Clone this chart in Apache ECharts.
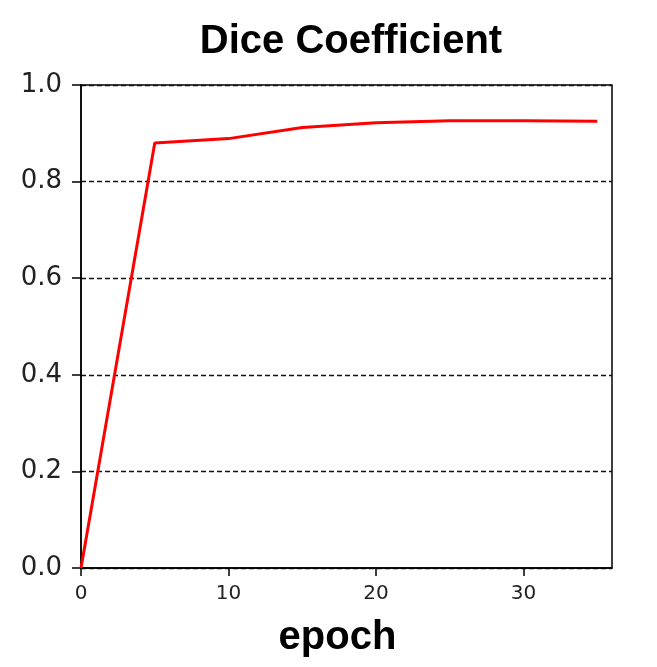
<!DOCTYPE html>
<html>
<head>
<meta charset="utf-8">
<script src="https://cdn.jsdelivr.net/npm/echarts@6/dist/echarts.min.js"></script>
<style>
  html, body { margin: 0; padding: 0; background: #fff; }
  #chart-container { width: 657px; height: 667px; }
</style>
</head>
<body>
<div id="chart-container"></div>
<script>
var dom = document.getElementById("chart-container");
var myChart = echarts.init(dom, null, { renderer: "canvas" });

var epochs = [0, 5, 10, 15, 20, 25, 30, 35];
var dice = [0.0, 0.88, 0.889, 0.912, 0.922, 0.926, 0.926, 0.925];
var xTicks = [0, 10, 20, 30];

var data = [];
for (var i = 0; i < epochs.length; i++) data.push([epochs[i], dice[i]]);

var option = {
  animation: false,
  title: {
    text: "Dice Coefficient",
    left: 346,
    textAlign: "center",
    top: 17,
    textStyle: {
      fontFamily: "Liberation Sans",
      fontWeight: "bold",
      fontSize: 40,
      color: "#000",
    },
  },
  grid: {
    left: 81,
    right: 45,
    top: 85,
    bottom: 99,
    show: true,
    borderColor: "#000",
    borderWidth: 1.5,
  },
  xAxis: {
    type: "value",
    min: 0,
    max: 36,
    interval: 10,
    name: "epoch",
    nameLocation: "middle",
    nameGap: 50,
    nameTextStyle: {
      fontFamily: "Liberation Sans",
      fontWeight: "bold",
      fontSize: 40,
      color: "#000",
      padding: [0, 18, 0, 0],
    },
    axisLine: { show: true, lineStyle: { color: "#000", width: 1.5 } },
    axisTick: {
      show: true,
      length: 8,
      customValues: xTicks,
      lineStyle: { color: "#000", width: 1.5 },
    },
    axisLabel: {
      customValues: xTicks,
      margin: 16,
      fontFamily: "DejaVu Sans",
      fontSize: 20,
      color: "#222",
    },
    splitLine: { show: false },
  },
  yAxis: {
    type: "value",
    min: 0,
    max: 1,
    interval: 0.2,
    axisLine: { show: true, lineStyle: { color: "#000", width: 1.5 } },
    axisTick: {
      show: true,
      length: 9,
      lineStyle: { color: "#000", width: 1.5 },
    },
    axisLabel: {
      margin: 19,
      fontFamily: "DejaVu Sans",
      fontSize: 26,
      color: "#222",
      formatter: function (v) { return v.toFixed(1); },
    },
    splitLine: {
      show: true,
      lineStyle: { color: "#111", width: 1.3, type: [5, 3] },
    },
  },
  series: [
    {
      name: "Dice Coefficient",
      type: "line",
      data: data,
      symbol: "none",
      lineStyle: { color: "#ff0000", width: 3 },
    },
  ],
};

myChart.setOption(option);
window.addEventListener("resize", myChart.resize);
</script>
</body>
</html>
